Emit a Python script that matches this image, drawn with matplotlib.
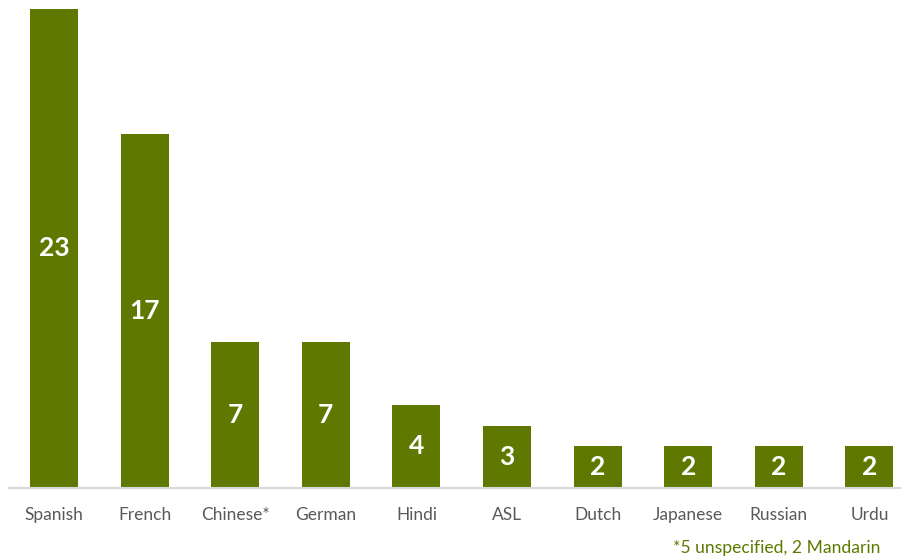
import matplotlib.pyplot as plt
import numpy as np

languages = ['Spanish', 'French', 'Chinese*', 'German', 'Hindi', 'ASL',
             'Dutch', 'Japanese', 'Russian', 'Urdu']
counts = [23, 17, 7, 7, 4, 3, 2, 2, 2, 2]
footnote = '*5 unspecified, 2 Mandarin'

bar_color = '#5f7800'
font = ['Lato', 'DejaVu Sans']

W, H = 901, 558
fig = plt.figure(figsize=(W / 100, H / 100), dpi=100)

# axes placed in pixel terms: x from -0.5..9.5, y 0..23
px_per_cat = 90.6
left_px = 54 - px_per_cat / 2
ax = fig.add_axes([left_px / W, (H - 488) / H, px_per_cat * 10 / W, (488 - 9) / H])

x = np.arange(len(languages))
bars = ax.bar(x, counts, width=0.53, color=bar_color)
ax.set_xlim(-0.5, 9.5)
ax.set_ylim(0, 23)

for xi, v in zip(x, counts):
    ax.text(xi, v / 2, str(v), ha='center', va='center', color='white',
            fontsize=19, fontweight='bold', family=font)

for s in ['top', 'right', 'left']:
    ax.spines[s].set_visible(False)
ax.spines['bottom'].set_color('#d9d9d9')
ax.spines['bottom'].set_linewidth(1.5)
ax.set_yticks([])
ax.set_xticks(x)
ax.set_xticklabels(languages, fontsize=12.5, color='#595959', family=font)
ax.tick_params(axis='x', length=0, pad=14)

fig.text(880 / W, 1 - 548 / H, footnote, ha='right', va='center',
         fontsize=12.6, color=bar_color, family=font)

fig.savefig('out.png', dpi=100)
